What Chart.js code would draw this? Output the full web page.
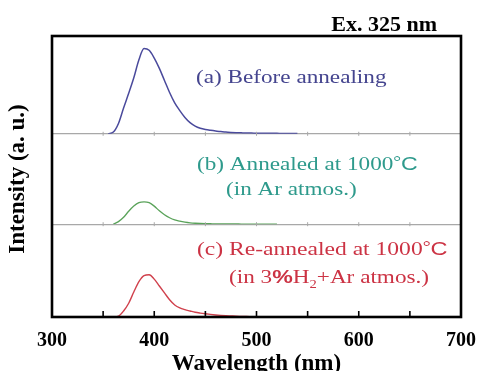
<!DOCTYPE html>
<html>
<head>
<meta charset="utf-8">
<script src="https://cdn.jsdelivr.net/npm/chart.js@4.4.0/dist/chart.umd.min.js"></script>
<style>
  html, body { margin: 0; padding: 0; background: #fff; }
</style>
</head>
<body>
<canvas id="pl-chart" width="482" height="371"></canvas>
<script>
// PL spectra, Ex. 325 nm
const wavelengths = [350, 355, 360, 365, 370, 375, 380, 385, 390, 395, 400, 405, 410, 415, 420, 425, 430, 435, 440, 445,
  450, 455, 460, 465, 470, 475, 480, 485, 490, 495, 500, 505, 510, 515, 520, 525, 530, 535, 540];

// (a) before annealing
const beforeAnneal = [null, 0, 0.02, 0.12, 0.3, 0.47, 0.65, 0.86, 0.99, 0.97, 0.88, 0.76, 0.62, 0.48, 0.36, 0.27, 0.19, 0.13, 0.09, 0.065,
  0.05, 0.04, 0.032, 0.026, 0.02, 0.016, 0.013, 0.011, 0.009, 0.008, 0.007, 0.006, 0.006, 0.005, 0.005, 0.004, 0.004, 0.003, 0.003];

// (b) annealed at 1000C in Ar
const arAnneal = [null, null, 0, 0.03, 0.08, 0.15, 0.21, 0.25, 0.26, 0.25, 0.21, 0.155, 0.11, 0.075, 0.05, 0.035, 0.024, 0.016, 0.011, 0.008,
  0.006, 0.005, 0.004, 0.004, 0.003, 0.003, 0.003, 0.002, 0.002, 0.002, 0.002, 0.002, 0.002, 0.002, 0.002, null, null, null, null];

// (c) re-annealed at 1000C in 3%H2+Ar
const h2Anneal = [null, null, 0, 0.01, 0.07, 0.16, 0.29, 0.41, 0.48, 0.49, 0.44, 0.36, 0.28, 0.2, 0.14, 0.105, 0.085, 0.07, 0.055, 0.045,
  0.037, 0.03, 0.024, 0.019, 0.015, 0.012, 0.009, 0.007, 0.005, 0.004, 0.003, 0.003, 0.002, 0.002, 0.002, null, null, null, null];

// top of each panel's intensity axis (a, b, c)
const panelMax = [1.136, 1.05, 1.078];
const xTickLabels = [300, 400, 500, 600, 700];

const toPoints = arr => wavelengths.map((w, i) => ({ x: w, y: arr[i] }));

const serif = '"Liberation Serif", "Times New Roman", serif';
const sans = '"Liberation Sans", Arial, sans-serif';

const baselineGrid = {
  drawTicks: false,
  color: c => (c.tick && c.tick.value === 0 ? '#a8a8a8' : 'rgba(0,0,0,0)'),
  lineWidth: 1.2
};

function panelAxis(max, weight) {
  return {
    type: 'linear',
    position: 'left',
    stack: 'panels',
    stackWeight: weight,
    min: 0,
    max: max,
    ticks: { display: false },
    grid: baselineGrid,
    border: { display: false },
    afterFit: s => { s.width = 52; }
  };
}

// draws text made of parts with different fonts, stretched a bit sideways like the original
function drawRich(ctx, x, y, parts, color, sx) {
  ctx.save();
  ctx.translate(x, y);
  ctx.scale(sx, 1);
  ctx.fillStyle = color;
  ctx.textBaseline = 'alphabetic';
  ctx.textAlign = 'left';
  let cx = 0;
  parts.forEach(p => {
    ctx.font = p.font;
    ctx.fillText(p.text, cx, p.dy || 0);
    cx += ctx.measureText(p.text).width;
  });
  ctx.restore();
}

const framePlugin = {
  id: 'frame',
  afterDatasetsDraw(chart) {
    const { ctx, chartArea: a, scales } = chart;
    const x = scales.x;
    ctx.save();
    // small gray ticks on the panel baselines
    ctx.strokeStyle = '#a8a8a8';
    ctx.lineWidth = 1;
    ['yA', 'yB'].forEach(id => {
      const yy = scales[id].getPixelForValue(0);
      x.ticks.forEach(t => {
        const px = x.getPixelForValue(t.value);
        ctx.beginPath();
        ctx.moveTo(px, yy - 2);
        ctx.lineTo(px, yy + 2);
        ctx.stroke();
      });
    });
    // inward ticks on the bottom axis
    ctx.strokeStyle = '#000';
    ctx.lineWidth = 1.6;
    x.ticks.forEach(t => {
      const px = x.getPixelForValue(t.value);
      ctx.beginPath();
      ctx.moveTo(px, a.bottom);
      ctx.lineTo(px, a.bottom - 6);
      ctx.stroke();
    });
    ctx.lineWidth = 2.6;
    ctx.strokeRect(a.left, a.top, a.right - a.left, a.bottom - a.top);
    ctx.restore();
  },
  afterDraw(chart) {
    const ctx = chart.ctx;
    const f = '19px ' + serif;
    const deg = [{ text: '\u00b0', font: '16px ' + serif, dy: -3 }, { text: 'C', font: '19px ' + sans }];

    ctx.save();
    ctx.fillStyle = '#000';
    ctx.font = 'bold 22px ' + serif;
    ctx.textAlign = 'right';
    ctx.textBaseline = 'alphabetic';
    ctx.fillText('Ex. 325 nm', 437, 31);
    ctx.restore();

    drawRich(ctx, 196, 83, [{ text: '(a) Before annealing', font: f }], '#45458f', 1.22);

    drawRich(ctx, 197, 170, [{ text: '(b) Annealed at 1000', font: f }].concat(deg), '#2e9a8c', 1.22);
    drawRich(ctx, 226, 195, [{ text: '(in Ar atmos.)', font: f }], '#2e9a8c', 1.22);

    drawRich(ctx, 197, 255, [{ text: '(c) Re-annealed at 1000', font: f }].concat(deg), '#cc3344', 1.24);
    drawRich(ctx, 229, 283, [
      { text: '(in 3', font: f },
      { text: '%', font: 'bold 19px ' + sans },
      { text: 'H', font: f },
      { text: '2', font: '12px ' + serif, dy: 5 },
      { text: '+Ar atmos.)', font: f }
    ], '#cc3344', 1.22);
  }
};

new Chart(document.getElementById('pl-chart'), {
  type: 'line',
  data: {
    datasets: [
      { label: '(a)', data: toPoints(beforeAnneal), yAxisID: 'yA', borderColor: '#4a4a9c', borderWidth: 1.5 },
      { label: '(b)', data: toPoints(arAnneal), yAxisID: 'yB', borderColor: '#5aa35a', borderWidth: 1.3 },
      { label: '(c)', data: toPoints(h2Anneal), yAxisID: 'yC', borderColor: '#d0404c', borderWidth: 1.4 }
    ]
  },
  options: {
    responsive: false,
    animation: false,
    layout: { padding: { top: 36, right: 21, left: 0, bottom: -7 } },
    elements: {
      point: { radius: 0 },
      line: { cubicInterpolationMode: 'monotone', fill: false }
    },
    plugins: { legend: { display: false }, tooltip: { enabled: false } },
    scales: {
      x: {
        type: 'linear',
        min: 300,
        max: 700,
        ticks: {
          stepSize: 50,
          autoSkip: false,
          maxRotation: 0,
          padding: 12,
          color: '#000',
          font: { family: serif, size: 20, weight: 'bold' },
          callback: v => (xTickLabels.includes(v) ? String(v) : '')
        },
        grid: { drawOnChartArea: false, drawTicks: false },
        border: { display: false },
        title: {
          display: true,
          text: 'Wavelength (nm)',
          color: '#000',
          font: { family: serif, size: 23, weight: 'bold' },
          padding: 0
        },
        afterFit: s => {
          s.height = 61;
          s.paddingRight = 0;
          s.paddingLeft = 0;
        }
      },
      yC: panelAxis(panelMax[2], 92.7),
      yB: Object.assign(panelAxis(panelMax[1], 90.3), {
        title: {
          display: true,
          text: 'Intensity (a. u.)',
          color: '#000',
          font: { family: serif, size: 23, weight: 'bold' },
          padding: { top: 4, bottom: 0 }
        }
      }),
      yA: panelAxis(panelMax[0], 97.7)
    }
  },
  plugins: [framePlugin]
});
</script>
</body>
</html>
